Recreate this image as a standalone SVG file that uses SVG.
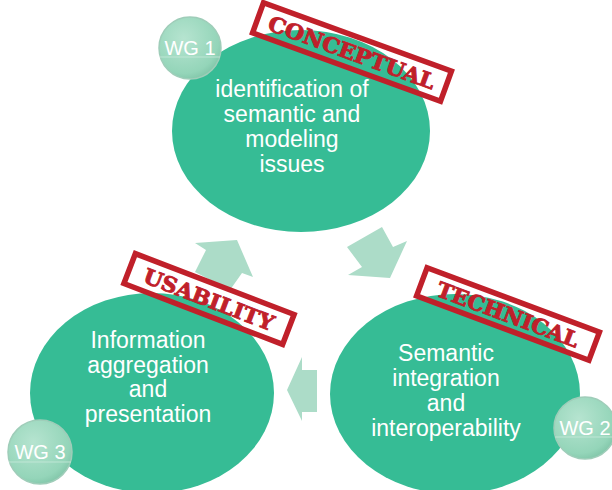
<svg xmlns="http://www.w3.org/2000/svg" width="612" height="490" viewBox="0 0 612 490">
<defs>
<radialGradient id="badge" cx="0.4" cy="0.35" r="0.7">
<stop offset="0" stop-color="#b6e4d0"/>
<stop offset="0.8" stop-color="#94d5b9"/>
<stop offset="1" stop-color="#7fc4a7"/>
</radialGradient>
<style>
.ell{fill:#36bc95}
.arrow{fill:#acdcc8}
.txt{font-family:"Liberation Sans",Arial,sans-serif;font-size:23px;fill:#ffffff;text-anchor:middle}
.wg{font-family:"Liberation Sans",Arial,sans-serif;font-size:20px;fill:#ffffff;text-anchor:middle}
.badge{fill:url(#badge);stroke:#9fcdb9;stroke-width:1.5}
.bline{stroke:#c8eadb;stroke-width:1;opacity:0.8}
.stamp{fill:none;stroke:#c0202a;stroke-width:5.5}
.stxt{font-family:"DejaVu Serif","Liberation Serif",serif;font-weight:bold;font-size:21px;fill:#c0202a;stroke:#c0202a;stroke-width:0.9;text-anchor:middle}
</style>
</defs>
<g id="connectors">
<polygon class="arrow" points="237,240 195,243 206,250 195,272 230,290 242,273 253,277"/>
<polygon class="arrow" points="390,278 348,275 362,267 347,247 382,227 393,247 407,241"/>
<polygon class="arrow" points="287,390 302,357 302,370 317,370 317,412 302,412 302,421"/>
</g>
<g id="node-wg1">
<ellipse class="ell" cx="301" cy="131" rx="129" ry="101"/>
<text class="txt" x="292" y="97">identification of</text>
<text class="txt" x="292" y="122">semantic and</text>
<text class="txt" x="292" y="147">modeling</text>
<text class="txt" x="292" y="172">issues</text>
<circle class="badge" cx="190" cy="48" r="31"/>
<line class="bline" x1="160" y1="57" x2="220" y2="57"/>
<text class="wg" x="190" y="55">WG 1</text>
<g transform="rotate(20 352 52)">
<rect class="stamp" x="252" y="36" width="200" height="32"/>
<text class="stxt" x="352" y="60" textLength="176" lengthAdjust="spacingAndGlyphs">CONCEPTUAL</text>
</g>
</g>
<g id="node-wg3">
<ellipse class="ell" cx="152" cy="393" rx="122" ry="100"/>
<text class="txt" x="148" y="348">Information</text>
<text class="txt" x="148" y="373">aggregation</text>
<text class="txt" x="148" y="397">and</text>
<text class="txt" x="148" y="422">presentation</text>
<circle class="badge" cx="40" cy="452" r="32"/>
<line class="bline" x1="9" y1="462" x2="71" y2="462"/>
<text class="wg" x="40" y="459">WG 3</text>
<g transform="rotate(21 209 299)">
<rect class="stamp" x="124" y="283" width="170" height="32"/>
<text class="stxt" x="209" y="307" textLength="138" lengthAdjust="spacingAndGlyphs">USABILITY</text>
</g>
</g>
<g id="node-wg2">
<ellipse class="ell" cx="455" cy="394" rx="125" ry="100"/>
<text class="txt" x="446" y="361">Semantic</text>
<text class="txt" x="446" y="386">integration</text>
<text class="txt" x="446" y="411">and</text>
<text class="txt" x="446" y="436">interoperability</text>
<circle class="badge" cx="585" cy="428" r="31"/>
<line class="bline" x1="555" y1="437" x2="612" y2="437"/>
<text class="wg" x="585" y="435">WG 2</text>
<g transform="rotate(20.5 508 314)">
<rect class="stamp" x="416" y="299" width="184" height="30"/>
<text class="stxt" x="508" y="322" textLength="150" lengthAdjust="spacingAndGlyphs">TECHNICAL</text>
</g>
</g>
</svg>
